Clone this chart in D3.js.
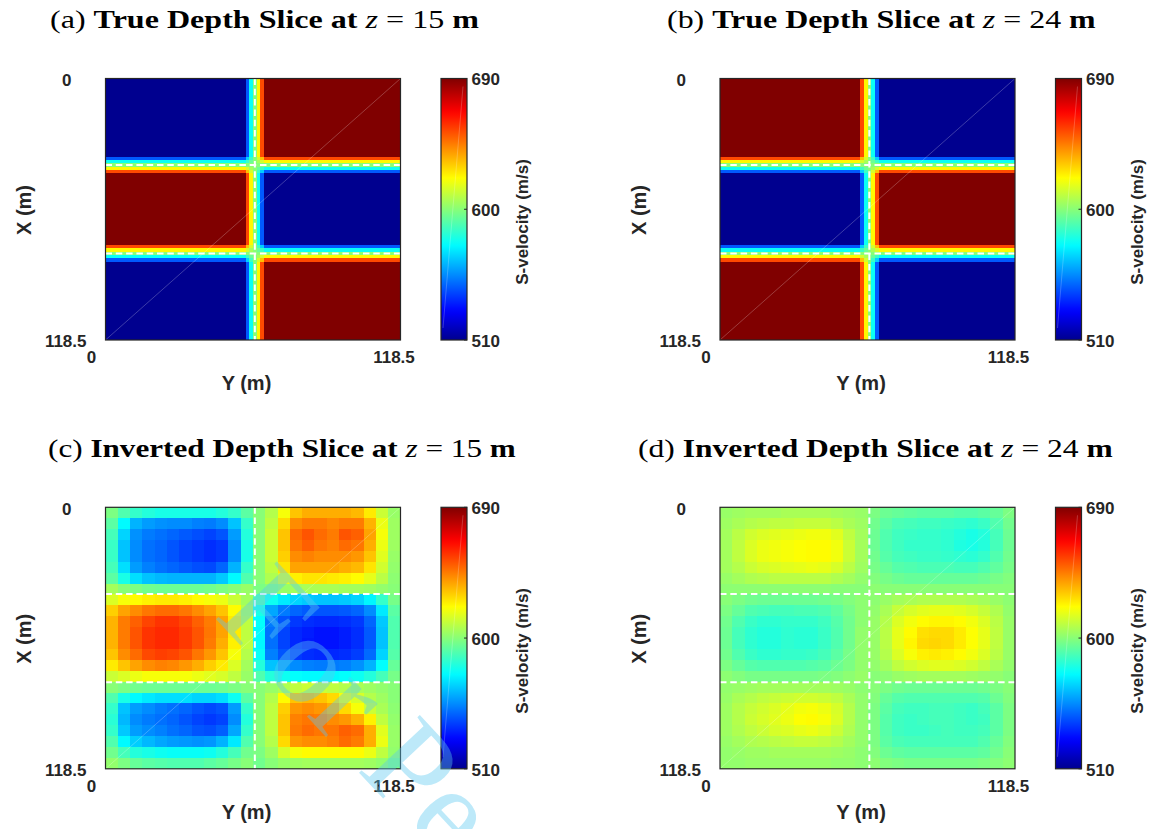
<!DOCTYPE html>
<html><head><meta charset="utf-8">
<script src="https://cdn.jsdelivr.net/npm/d3@7"></script>
<style>body{margin:0;background:#fff} svg{display:block}</style>
</head><body>
<svg id="fig" width="1154" height="829"></svg>
<script>
// ================= DATA =================
const vMin = 510, vMax = 690;
const colorbarTicks = [510, 600, 690];
const axisTickLabels = ["0", "118.5"];
const cellSpacing = 1.5;                 // m (true model grid)
const trueGridN = 80;                    // cells per side
const trueBoundaryX = [39, 79.5];        // m, block boundaries along X (rows)
const trueBoundaryY = [60];              // m, block boundary along Y (columns)
const trueBlocks15 = [[510, 690], [690, 510], [510, 690]];
const trueBlocks24 = [[690, 510], [510, 690], [690, 510]];
const edgeWeights = [0.2, 0.375, 0.5, 0.625, 0.8]; // weight of next block, cells -2..2 around a boundary
const invGridN = 24;                     // inverted grid cells per side (5 m)
const inverted15 = [
 [598,590,585,582,580,580,580,580,580,582,585,592, 600,608,620,632,636,636,636,636,634,625,612,603],
 [592,575,562,558,556,555,555,553,552,555,565,585, 600,610,628,642,645,645,643,645,645,635,618,604],
 [588,568,556,552,550,548,546,544,542,545,558,582, 600,612,632,648,652,648,645,652,650,638,620,604],
 [586,565,555,550,548,545,542,540,538,540,555,580, 600,612,632,646,650,646,644,648,646,636,618,604],
 [586,565,555,550,548,545,542,540,538,540,555,580, 600,612,630,642,644,642,642,642,640,632,616,603],
 [588,570,558,553,550,548,546,544,543,548,562,585, 600,610,626,638,638,638,638,636,634,626,613,602],
 [592,580,570,565,563,562,562,562,562,566,575,590, 600,607,616,624,626,626,625,624,622,617,609,601],
 [605,600,598,596,595,595,595,595,596,598,600,603, 598,600,603,605,606,606,606,605,605,604,602,600],
 [615,620,622,624,625,625,624,622,620,618,612,605, 590,578,572,568,566,565,565,566,568,574,585,597],
 [630,638,642,646,648,648,646,642,638,632,622,608, 580,560,552,548,546,545,545,546,548,555,572,592],
 [635,645,650,655,658,658,655,650,645,638,625,610, 576,552,545,540,538,537,537,538,540,548,566,590],
 [635,645,652,658,660,660,657,652,646,638,625,610, 575,550,542,537,535,533,533,535,538,546,565,590],
 [635,645,652,658,660,660,657,652,645,636,624,610, 575,550,542,537,534,533,533,535,538,546,565,590],
 [632,642,648,654,656,655,652,646,640,632,620,608, 577,553,545,540,538,537,537,538,541,549,568,591],
 [625,632,638,642,644,643,640,636,630,625,615,605, 582,565,558,555,553,552,552,553,556,562,576,594],
 [612,615,618,620,620,620,620,618,616,614,610,603, 590,582,578,576,575,575,575,576,578,582,588,597],
 [600,598,596,595,595,595,595,595,595,596,598,600, 600,603,607,610,612,612,610,608,606,604,602,600],
 [590,580,575,572,570,570,570,568,568,570,578,592, 600,608,622,632,634,632,628,620,614,608,604,600],
 [585,565,558,555,552,550,548,545,543,545,558,585, 600,610,630,640,642,640,636,628,620,612,606,601],
 [583,563,555,552,550,548,545,542,540,542,555,582, 600,610,632,644,646,645,642,640,635,624,610,602],
 [585,566,558,555,553,550,548,545,544,547,560,585, 600,610,632,645,648,646,646,650,648,636,616,603],
 [590,575,567,563,560,558,557,556,557,562,572,590, 600,608,628,640,642,642,644,648,645,636,618,603],
 [596,588,582,580,578,577,577,577,578,582,588,596, 598,604,614,620,622,622,622,622,622,618,610,602],
 [602,598,594,592,591,590,590,590,592,594,597,600, 596,600,603,604,605,605,605,605,605,604,602,598]
];
const inverted24 = [
 [603,604,605,605,605,606,606,606,606,605,604,603, 598,595,594,593,592,592,592,591,591,592,594,598],
 [604,606,608,609,610,610,611,611,611,609,606,604, 596,592,589,588,587,587,586,585,584,586,590,596],
 [605,609,613,615,616,617,618,619,619,616,610,605, 595,590,587,586,585,585,584,582,580,582,588,595],
 [605,610,615,618,619,620,621,622,622,619,612,605, 595,590,587,585,585,585,584,581,580,582,588,595],
 [605,610,615,618,619,620,621,622,622,619,612,605, 596,591,588,587,586,586,585,584,583,585,590,596],
 [605,608,612,614,615,616,617,618,617,614,609,604, 597,594,591,590,589,589,589,588,588,590,593,597],
 [603,605,607,608,609,609,609,609,609,607,605,602, 599,597,595,594,594,594,594,594,594,595,597,599],
 [601,601,601,601,601,601,601,601,601,600,600,600, 601,600,600,600,600,600,600,600,600,600,600,600],
 [600,598,596,595,595,595,595,595,596,597,599,601, 601,603,605,606,607,607,607,607,606,605,603,601],
 [598,594,590,589,588,588,589,589,590,593,597,601, 602,606,611,614,616,617,617,616,614,611,607,602],
 [596,590,586,584,584,585,585,585,587,591,596,601, 603,608,615,619,622,623,623,622,619,615,609,603],
 [595,588,584,582,582,584,583,583,586,590,596,602, 603,609,617,622,627,628,628,625,621,617,610,603],
 [595,588,584,582,582,584,583,583,586,590,596,602, 603,609,617,623,628,629,628,625,621,617,610,603],
 [596,590,586,584,584,585,585,586,588,592,597,602, 603,608,615,620,624,625,624,622,619,615,609,603],
 [598,594,591,590,590,590,590,591,592,595,598,602, 602,605,610,613,615,616,616,615,613,610,606,602],
 [601,599,597,597,597,597,597,597,598,599,601,603, 600,601,603,604,605,605,605,605,604,603,602,600],
 [602,603,604,605,605,605,605,605,605,604,603,601, 600,598,596,595,595,595,595,595,595,596,598,600],
 [603,606,608,610,611,612,613,613,612,610,606,602, 599,594,591,590,590,590,590,590,590,591,595,599],
 [604,608,611,613,615,617,619,620,618,614,608,602, 598,592,588,587,587,588,588,587,586,588,592,598],
 [604,608,612,614,616,618,621,622,620,615,608,602, 598,591,587,586,587,588,588,587,586,587,592,598],
 [604,607,610,612,614,615,617,618,616,612,607,602, 598,591,587,586,586,587,588,587,587,588,592,598],
 [603,605,607,608,609,610,611,611,610,608,605,602, 598,592,589,588,588,588,588,588,588,590,594,599],
 [602,603,604,604,605,605,605,605,605,604,603,601, 599,595,593,592,592,592,592,592,592,593,596,600],
 [602,602,603,603,603,603,603,603,603,602,602,601, 601,599,598,597,597,597,597,597,597,598,599,601]
];
const titleLetters = ["(a)", "(b)", "(c)", "(d)"];
const titleNames = ["True Depth Slice at", "True Depth Slice at", "Inverted Depth Slice at", "Inverted Depth Slice at"];
const titleDepths = ["15", "24", "15", "24"];
const jetStops = [0, 0.111, 0.365, 0.619, 0.873, 1];
const jetColors = ["#00008f", "#0000ff", "#00ffff", "#ffff00", "#ff0000", "#800000"];

// ================= LAYOUT =================
const L = { colLeft: [105.5, 720], rowTop: [78.5, 507.3], plotW: 295, plotH: 261.5,
            cbGap: 40.5, cbW: 26 };
const titleX = [50, 667, 48, 638], titleW = [429, 429, 468, 475];
const ink = "#262626";
const sans = "'Liberation Sans', Arial, sans-serif";

const svg = d3.select("#fig");
svg.append("rect").attr("width", 1154).attr("height", 829).attr("fill", "#fff");

const jet = d3.scaleLinear()
  .domain(jetStops.map(f => vMin + f * (vMax - vMin)))
  .range(jetColors).interpolate(d3.interpolateRgb).clamp(true);

// true-model cell values from blocks + boundary transition
function axisWeights(idx, boundaryIdx) {
  const nb = boundaryIdx.length + 1;
  const w = new Array(nb).fill(0);
  for (let k = 0; k < boundaryIdx.length; k++) {
    const o = idx - boundaryIdx[k];
    if (Math.abs(o) <= 2) { const t = edgeWeights[o + 2]; w[k] = 1 - t; w[k + 1] = t; return w; }
  }
  let b = 0; boundaryIdx.forEach(bi => { if (idx > bi) b++; });
  w[b] = 1; return w;
}
function trueGrid(blocks) {
  const bx = trueBoundaryX.map(v => Math.round(v / cellSpacing));
  const by = trueBoundaryY.map(v => Math.round(v / cellSpacing));
  const out = [];
  for (let i = 0; i < trueGridN; i++) {
    const wr = axisWeights(i, bx), row = [];
    for (let j = 0; j < trueGridN; j++) {
      const wc = axisWeights(j, by);
      let v = 0;
      wr.forEach((a, k) => wc.forEach((b, l) => { v += a * b * blocks[k][l]; }));
      row.push(v);
    }
    out.push(row);
  }
  return out;
}

const panels = [
  { col: 0, row: 0, grid: trueGrid(trueBlocks15) },
  { col: 1, row: 0, grid: trueGrid(trueBlocks24) },
  { col: 0, row: 1, grid: inverted15 },
  { col: 1, row: 1, grid: inverted24 }
];

const extent = [-cellSpacing / 2, trueGridN * cellSpacing - cellSpacing / 2]; // cell edges (m)

panels.forEach((p, pi) => {
  const x0 = L.colLeft[p.col], y0 = L.rowTop[p.row];
  const xs = d3.scaleLinear().domain(extent).range([x0, x0 + L.plotW]);   // Y (m)
  const ys = d3.scaleLinear().domain(extent).range([y0, y0 + L.plotH]);   // X (m)
  const g = svg.append("g");
  const n = p.grid.length, step = (extent[1] - extent[0]) / n;
  const cells = [];
  p.grid.forEach((r, i) => r.forEach((v, j) => cells.push({ i, j, v })));
  const ex = k => Math.round(xs(extent[0] + k * step));
  const ey = k => Math.round(ys(extent[0] + k * step));
  g.selectAll("rect.cell").data(cells).join("rect")
    .attr("shape-rendering", "crispEdges")
    .attr("x", d => ex(d.j))
    .attr("y", d => ey(d.i))
    .attr("width", d => ex(d.j + 1) - ex(d.j))
    .attr("height", d => ey(d.i + 1) - ey(d.i))
    .attr("fill", d => jet(d.v));

  // dashed block outlines
  const dash = g.append("g").attr("stroke", "#fff").attr("stroke-width", 2).attr("stroke-dasharray", "6.5,3.8").attr("fill", "none");
  trueBoundaryX.forEach(bx => dash.append("line").attr("x1", x0).attr("x2", x0 + L.plotW).attr("y1", ys(bx)).attr("y2", ys(bx)));
  trueBoundaryY.forEach(by => dash.append("line").attr("y1", y0).attr("y2", y0 + L.plotH).attr("x1", xs(by)).attr("x2", xs(by)));

  // faint diagonal artifact
  g.append("line").attr("x1", x0).attr("y1", y0 + L.plotH).attr("x2", x0 + L.plotW).attr("y2", y0)
    .attr("stroke", "#fff").attr("stroke-opacity", 0.4).attr("stroke-width", 0.6);
  // frame
  g.append("rect").attr("x", x0).attr("y", y0).attr("width", L.plotW).attr("height", L.plotH)
    .attr("fill", "none").attr("stroke", ink).attr("stroke-width", 1.2);

  // tick labels
  const tl = g.append("g").attr("font-family", sans).attr("font-weight", "bold").attr("font-size", 17).attr("fill", ink);
  tl.append("text").attr("x", x0 - 34).attr("y", y0 + 1.5).attr("dy", "0.35em").attr("text-anchor", "end").text(axisTickLabels[0]);
  tl.append("text").attr("x", x0 - 19).attr("y", y0 + L.plotH + 1).attr("dy", "0.35em").attr("text-anchor", "end").text(axisTickLabels[1]);
  tl.append("text").attr("x", x0 - 14).attr("y", y0 + L.plotH + 17.5).attr("dy", "0.35em").attr("text-anchor", "middle").text(axisTickLabels[0]);
  tl.append("text").attr("x", x0 + L.plotW - 6.5).attr("y", y0 + L.plotH + 17.5).attr("dy", "0.35em").attr("text-anchor", "middle").text(axisTickLabels[1]);

  // axis labels
  g.append("text").attr("x", x0 + 141).attr("y", y0 + L.plotH + 43).attr("dy", "0.35em")
    .attr("text-anchor", "middle").attr("font-family", sans).attr("font-weight", "bold").attr("font-size", 20).attr("fill", ink).text("Y (m)");
  g.append("text").attr("transform", `translate(${x0 - 81.5},${y0 + 131.5}) rotate(-90)`).attr("dy", "0.35em")
    .attr("text-anchor", "middle").attr("font-family", sans).attr("font-weight", "bold").attr("font-size", 20).attr("fill", ink).text("X (m)");

  // colorbar
  const cbx = x0 + L.plotW + L.cbGap;
  const cs = d3.scaleLinear().domain([vMin, vMax]).range([y0 + L.plotH, y0]);
  const gid = "jetgrad" + pi;
  const grad = svg.append("defs").append("linearGradient").attr("id", gid)
    .attr("x1", 0).attr("x2", 0).attr("y1", 1).attr("y2", 0);
  d3.range(0, 1.0001, 0.02).forEach(f => grad.append("stop").attr("offset", f).attr("stop-color", jet(vMin + f * (vMax - vMin))));
  g.append("rect").attr("x", cbx).attr("y", y0).attr("width", L.cbW).attr("height", L.plotH).attr("fill", `url(#${gid})`);
  g.append("line").attr("x1", cbx + 22).attr("y1", y0 + 8).attr("x2", cbx + 2).attr("y2", y0 + L.plotH - 12)
    .attr("stroke", "#fff").attr("stroke-opacity", 0.35).attr("stroke-width", 0.6);
  g.append("rect").attr("x", cbx).attr("y", y0).attr("width", L.cbW).attr("height", L.plotH)
    .attr("fill", "none").attr("stroke", ink).attr("stroke-width", 1.2);
  colorbarTicks.forEach(t => {
    g.append("line").attr("x1", cbx + L.cbW - 3).attr("x2", cbx + L.cbW).attr("y1", cs(t)).attr("y2", cs(t)).attr("stroke", ink).attr("stroke-width", 1);
    g.append("text").attr("x", cbx + 30.5).attr("y", cs(t) + (t === vMin ? 1.5 : 1)).attr("dy", "0.35em")
      .attr("font-family", sans).attr("font-weight", "bold").attr("font-size", 17).attr("fill", ink).text(t);
  });
  g.append("text").attr("transform", `translate(${x0 + 417},${y0 + 143.5}) rotate(-90)`).attr("dy", "0.35em")
    .attr("text-anchor", "middle").attr("font-family", sans).attr("font-weight", "bold").attr("font-size", 17).attr("fill", ink).text("S-velocity (m/s)");

  // title
  const ty = y0 - 50.5;
  const tt = svg.append("text").attr("x", 0).attr("y", 0).attr("font-family", "'Liberation Serif','Times New Roman',serif").attr("font-size", 25).attr("fill", "#000");
  tt.append("tspan").text(titleLetters[pi] + " ");
  tt.append("tspan").attr("font-weight", "bold").text(titleNames[pi] + " ");
  tt.append("tspan").attr("font-style", "italic").text("z");
  tt.append("tspan").text(" = " + titleDepths[pi] + " ");
  tt.append("tspan").attr("font-weight", "bold").text("m");
  const w = tt.node().getComputedTextLength();
  tt.attr("transform", `translate(${titleX[pi]},${ty}) scale(${titleW[pi] / w},1)`);
});

// watermark
svg.append("text").attr("transform", "translate(213,616) rotate(47)")
  .attr("font-family", "'Liberation Serif','Times New Roman',serif").attr("font-size", 128)
  .attr("fill", "rgb(90,200,240)").attr("fill-opacity", 0.4).text("For Peer Review");
</script>
</body></html>
